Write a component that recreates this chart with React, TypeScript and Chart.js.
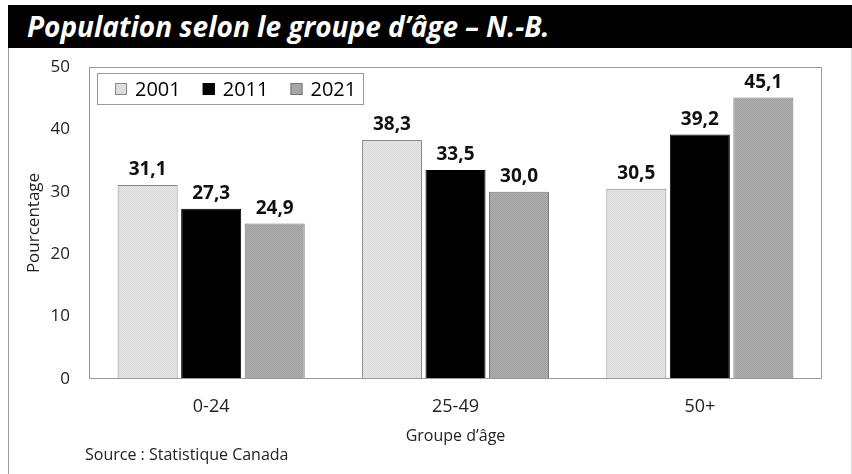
import React, { useEffect, useRef } from "react";
import { Chart, registerables } from "chart.js";

Chart.register(...registerables);

const categories = ["0-24", "25-49", "50+"];
const seriesNames = ["2001", "2011", "2021"];
const values2001 = [31.1, 38.3, 30.5];
const values2011 = [27.3, 33.5, 39.2];
const values2021 = [24.9, 30.0, 45.1];
const yTicks = [0, 10, 20, 30, 40, 50];

const FONT = "'Open Sans', 'Noto Sans', sans-serif";

function makePattern(c1: string, c2: string): CanvasPattern | string {
  const pc = document.createElement("canvas");
  pc.width = 2;
  pc.height = 2;
  const px = pc.getContext("2d");
  if (!px) return c1;
  px.fillStyle = c1;
  px.fillRect(0, 0, 2, 2);
  px.fillStyle = c2;
  px.fillRect(0, 0, 1, 1);
  px.fillRect(1, 1, 1, 1);
  const ctx = document.createElement("canvas").getContext("2d");
  const p = ctx ? ctx.createPattern(pc, "repeat") : null;
  return p || c1;
}

export default function App() {
  const ref = useRef<HTMLCanvasElement | null>(null);

  useEffect(() => {
    if (!ref.current) return;
    const lightFill = makePattern("#d8d8d8", "#e8e8e8");
    const midFill = makePattern("#9e9e9e", "#b0b0b0");
    const legendColors = ["#dcdcdc", "#000000", "#a6a6a6"];
    const legendBorders = ["#8a8a8a", "#000000", "#777777"];

    const framePlugin = {
      id: "frame",
      afterDraw(chart: any) {
        const { ctx, chartArea } = chart;
        const { left, top, right, bottom } = chartArea;
        ctx.save();
        // plot border
        ctx.strokeStyle = "#9a9a9a";
        ctx.lineWidth = 1;
        ctx.strokeRect(left + 0.5, top + 0.5, right - left - 1, bottom - top - 1);
        // legend
        const lx = left + 8;
        const ly = top + 6;
        const lw = 267;
        const lh = 32;
        ctx.fillStyle = "#ffffff";
        ctx.fillRect(lx, ly, lw, lh);
        ctx.strokeStyle = "#9a9a9a";
        ctx.strokeRect(lx + 0.5, ly + 0.5, lw - 1, lh - 1);
        ctx.font = `20px ${FONT}`;
        ctx.textBaseline = "middle";
        ctx.textAlign = "left";
        let x = lx + 18;
        const cy = ly + lh / 2;
        seriesNames.forEach((name, i) => {
          ctx.fillStyle = legendColors[i];
          ctx.fillRect(x, cy - 6, 12, 12);
          ctx.strokeStyle = legendBorders[i];
          ctx.strokeRect(x + 0.5, cy - 5.5, 11, 11);
          ctx.fillStyle = "#000";
          ctx.fillText(name, x + 20, cy + 1);
          x += 20 + ctx.measureText(name).width + 22;
        });
        // source
        ctx.font = `16px ${FONT}`;
        ctx.fillStyle = "#222";
        ctx.textAlign = "left";
        ctx.fillText("Source : Statistique Canada", 76, 407);
        ctx.restore();
      },
      afterDatasetsDraw(chart: any) {
        const { ctx } = chart;
        ctx.save();
        ctx.font = `bold 19px ${FONT}`;
        ctx.fillStyle = "#111";
        ctx.textAlign = "center";
        ctx.textBaseline = "middle";
        chart.data.datasets.forEach((ds: any, di: number) => {
          const meta = chart.getDatasetMeta(di);
          meta.data.forEach((el: any, i: number) => {
            const v = ds.data[i] as number;
            ctx.fillText(v.toFixed(1).replace(".", ","), el.x, el.y - 15);
          });
        });
        ctx.restore();
      },
    };

    const chart = new Chart(ref.current, {
      type: "bar",
      data: {
        labels: categories,
        datasets: [
          {
            label: seriesNames[0],
            data: values2001,
            backgroundColor: lightFill as any,
            borderColor: "#8a8a8a",
            borderWidth: 1,
          },
          {
            label: seriesNames[1],
            data: values2011,
            backgroundColor: "#000000",
            borderColor: "#000000",
            borderWidth: 1,
          },
          {
            label: seriesNames[2],
            data: values2021,
            backgroundColor: midFill as any,
            borderColor: "#777777",
            borderWidth: 1,
          },
        ],
      },
      options: {
        animation: false,
        responsive: true,
        maintainAspectRatio: false,
        datasets: { bar: { barPercentage: 0.945, categoryPercentage: 0.78 } },
        layout: { padding: { top: 19, right: 29, left: 0, bottom: 0 } },
        plugins: {
          legend: { display: false },
          tooltip: { enabled: false },
          title: { display: false },
        },
        scales: {
          x: {
            grid: { display: false, drawTicks: false },
            border: { display: false },
            ticks: { color: "#222", font: { family: FONT, size: 18 }, padding: 17 },
            title: {
              display: true,
              text: "Groupe d’âge",
              color: "#222",
              font: { family: FONT, size: 16 },
              padding: { top: 0, bottom: 28 },
            },
            afterFit(scale: any) {
              scale.height = 95;
              scale.paddingLeft = 0;
              scale.paddingRight = 0;
            },
          },
          y: {
            min: 0,
            max: 50,
            grid: { display: false, drawTicks: false },
            border: { display: false },
            afterBuildTicks(scale: any) {
              scale.ticks = yTicks.map((v) => ({ value: v }));
            },
            ticks: { color: "#222", font: { family: FONT, size: 17 }, padding: 19 },
            title: {
              display: true,
              text: "Pourcentage",
              color: "#222",
              font: { family: FONT, size: 17 },
              padding: { top: 15, bottom: 0 },
            },
            afterFit(scale: any) {
              scale.width = 80;
              scale.paddingTop = 0;
              scale.paddingBottom = 0;
            },
          },
        },
      },
      plugins: [framePlugin],
    });
    return () => chart.destroy();
  }, []);

  return (
    <div style={{ position: "absolute", left: 8, top: 5, width: 844, height: 469 }}>
      <div
        style={{
          height: 43,
          background: "#000",
          color: "#fff",
          fontFamily: FONT,
          fontWeight: 700,
          fontStyle: "italic",
          fontSize: 28,
          lineHeight: "43px",
          paddingLeft: 19,
          whiteSpace: "nowrap",
          boxSizing: "border-box",
        }}
      >
        Population selon le groupe d’âge – N.-B.
      </div>
      <div
        style={{
          height: 426,
          borderLeft: "1px solid #9a9a9a",
          borderRight: "1px solid #dddddd",
          boxSizing: "border-box",
          position: "relative",
        }}
      >
        <canvas ref={ref} />
      </div>
    </div>
  );
}
